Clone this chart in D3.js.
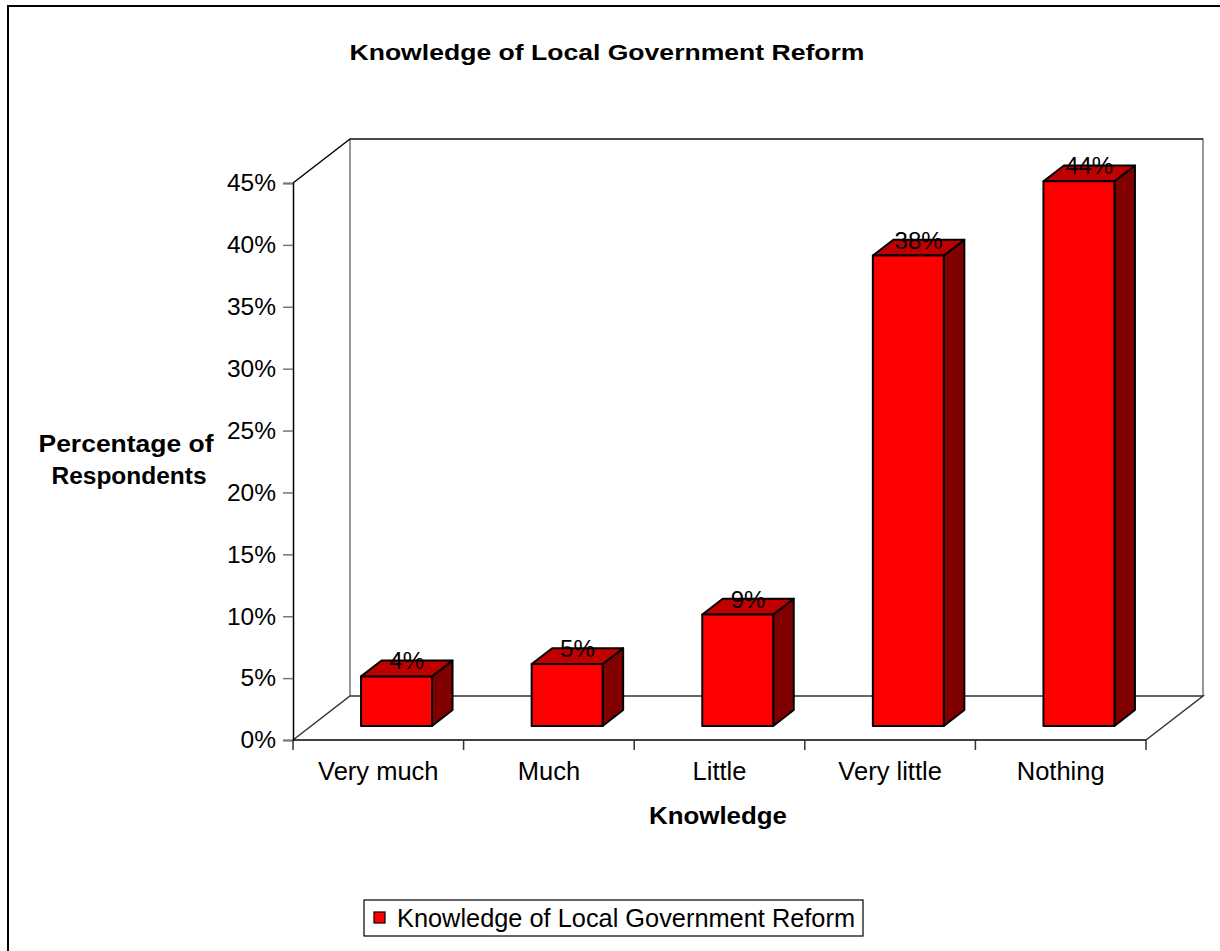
<!DOCTYPE html>
<html>
<head>
<meta charset="utf-8">
<script src="https://cdn.jsdelivr.net/npm/d3@7"></script>
<style>
  html, body { margin: 0; padding: 0; background: #fff; }
  svg { display: block; font-family: Arial, "Liberation Sans", sans-serif; }
</style>
</head>
<body>
<svg id="chart" width="1220" height="951"></svg>
<script>
// Survey responses: knowledge of the local government reform
const categories = ["Very much", "Much", "Little", "Very little", "Nothing"];
const values = [4, 5, 9, 38, 44];
const yTicks = [0, 5, 10, 15, 20, 25, 30, 35, 40, 45];
const seriesName = "Knowledge of Local Government Reform";

const svg = d3.select("#chart");

// Front plane of the 3-D plot area and the oblique depth vector
const front = { left: 293, right: 1146, top: 183, bottom: 740 };
const depth = { dx: 57, dy: -44 };
const barDepth = [0.32, 0.68];   // bar occupies the middle of the depth
const barWidthFrac = 0.416;

const x = d3.scaleBand().domain(categories).range([front.left, front.right]);
const y = d3.scaleLinear().domain([0, 45]).range([front.bottom, front.top]);
const proj = (px, py, f) => [px + depth.dx * f, py + depth.dy * f];

// Outer chart frame
svg.append("rect")
  .attr("x", 8).attr("y", 6).attr("width", 1300).attr("height", 1100)
  .attr("fill", "none").attr("stroke", "#000").attr("stroke-width", 2);

// Title
svg.append("text")
  .attr("x", 607).attr("y", 60)
  .attr("text-anchor", "middle")
  .attr("font-size", 22.5).attr("font-weight", "bold")
  .attr("textLength", 515).attr("lengthAdjust", "spacingAndGlyphs")
  .text("Knowledge of Local Government Reform");

// Walls and floor of the 3-D box
const walls = svg.append("g").attr("fill", "none");
const line = d3.line();
const bl = proj(front.left, front.bottom, 1), tl = proj(front.left, front.top, 1);
const br = proj(front.right, front.bottom, 1), tr = proj(front.right, front.top, 1);
// back wall
walls.append("path").attr("d", line([bl, tl, tr, br])).attr("stroke", "#777").attr("stroke-width", 1.5);
walls.append("path").attr("d", line([tl, tr])).attr("stroke", "#333").attr("stroke-width", 1.5);
// side wall top edge
walls.append("path").attr("d", line([[front.left, front.top], tl])).attr("stroke", "#000").attr("stroke-width", 1.5);
// floor
walls.append("path")
  .attr("d", line([[front.left, front.bottom], bl, br, [front.right, front.bottom]]))
  .attr("stroke", "#333").attr("stroke-width", 1.5);

// Y axis (front edge of the side wall)
const yAxis = svg.append("g")
  .attr("transform", `translate(${front.left},0)`)
  .call(d3.axisLeft(y).tickValues(yTicks).tickFormat(d => d + "%").tickSize(10).tickPadding(7));
yAxis.select(".domain").attr("stroke", "#000").attr("stroke-width", 1.5);
yAxis.selectAll(".tick line").attr("stroke", "#777").attr("stroke-width", 1.5);
yAxis.selectAll(".tick text")
  .attr("font-family", "Arial, 'Liberation Sans', sans-serif")
  .attr("font-size", 24.5).attr("fill", "#000");

// X axis line with ticks at the category boundaries
const xAxis = svg.append("g");
xAxis.append("line")
  .attr("x1", front.left).attr("x2", front.right)
  .attr("y1", front.bottom).attr("y2", front.bottom)
  .attr("stroke", "#000").attr("stroke-width", 1.5);
const boundaries = categories.map(c => x(c)).concat([x.range()[1]]);
xAxis.selectAll("line.tick").data(boundaries).join("line")
  .attr("class", "tick")
  .attr("x1", d => d).attr("x2", d => d)
  .attr("y1", front.bottom).attr("y2", front.bottom + 10)
  .attr("stroke", "#333").attr("stroke-width", 1.5);
xAxis.selectAll("text").data(categories).join("text")
  .attr("x", d => x(d) + x.bandwidth() / 2)
  .attr("y", 780)
  .attr("text-anchor", "middle")
  .attr("font-size", 25.5)
  .text(d => d);

// Axis titles
const yTitle = svg.append("text")
  .attr("text-anchor", "middle")
  .attr("font-size", 23.5).attr("font-weight", "bold");
yTitle.append("tspan").attr("x", 126).attr("y", 452)
  .attr("textLength", 175).attr("lengthAdjust", "spacingAndGlyphs").text("Percentage of");
yTitle.append("tspan").attr("x", 129).attr("y", 484)
  .attr("textLength", 155).attr("lengthAdjust", "spacingAndGlyphs").text("Respondents");

svg.append("text")
  .attr("x", 718).attr("y", 824)
  .attr("text-anchor", "middle")
  .attr("font-size", 23.5).attr("font-weight", "bold")
  .attr("textLength", 138).attr("lengthAdjust", "spacingAndGlyphs")
  .text("Knowledge");

// 3-D bars: front face, top face, right side face
const bars = svg.append("g").selectAll("g").data(categories.map((c, i) => ({ c, v: values[i] }))).join("g");
bars.each(function (d) {
  const g = d3.select(this);
  const w = x.bandwidth() * barWidthFrac;
  const cx = x(d.c) + x.bandwidth() / 2;
  const x0 = cx - w / 2, x1 = cx + w / 2;
  const yb = y(0), yt = y(d.v);
  const [f0, f1] = barDepth;
  const A = proj(x0, yt, f0), B = proj(x1, yt, f0), C = proj(x1, yb, f0), D = proj(x0, yb, f0);
  const E = proj(x0, yt, f1), F = proj(x1, yt, f1), G = proj(x1, yb, f1);
  const style = s => s.attr("stroke", "#000").attr("stroke-width", 2).attr("stroke-linejoin", "round");
  g.append("path").attr("d", line([B, F, G, C]) + "Z").attr("fill", "#800000").call(style);
  g.append("path").attr("d", line([A, E, F, B]) + "Z").attr("fill", "#C00000").call(style);
  g.append("path").attr("d", line([A, B, C, D]) + "Z").attr("fill", "#FF0000").call(style);
  const lp = proj(cx, yt, 0.5);
  g.append("text")
    .attr("x", lp[0]).attr("y", lp[1] + 1)
    .attr("text-anchor", "middle")
    .attr("font-size", 24)
    .text(d.v + "%");
});

// Legend
const legend = svg.append("g");
legend.append("rect")
  .attr("x", 364).attr("y", 900).attr("width", 499).attr("height", 36)
  .attr("fill", "#fff").attr("stroke", "#000").attr("stroke-width", 1.2);
legend.append("rect")
  .attr("x", 374).attr("y", 912).attr("width", 11).attr("height", 11)
  .attr("fill", "#FF0000").attr("stroke", "#000").attr("stroke-width", 1.2);
legend.append("text")
  .attr("x", 397).attr("y", 927)
  .attr("font-size", 25)
  .attr("textLength", 458).attr("lengthAdjust", "spacingAndGlyphs")
  .text(seriesName);
</script>
</body>
</html>
